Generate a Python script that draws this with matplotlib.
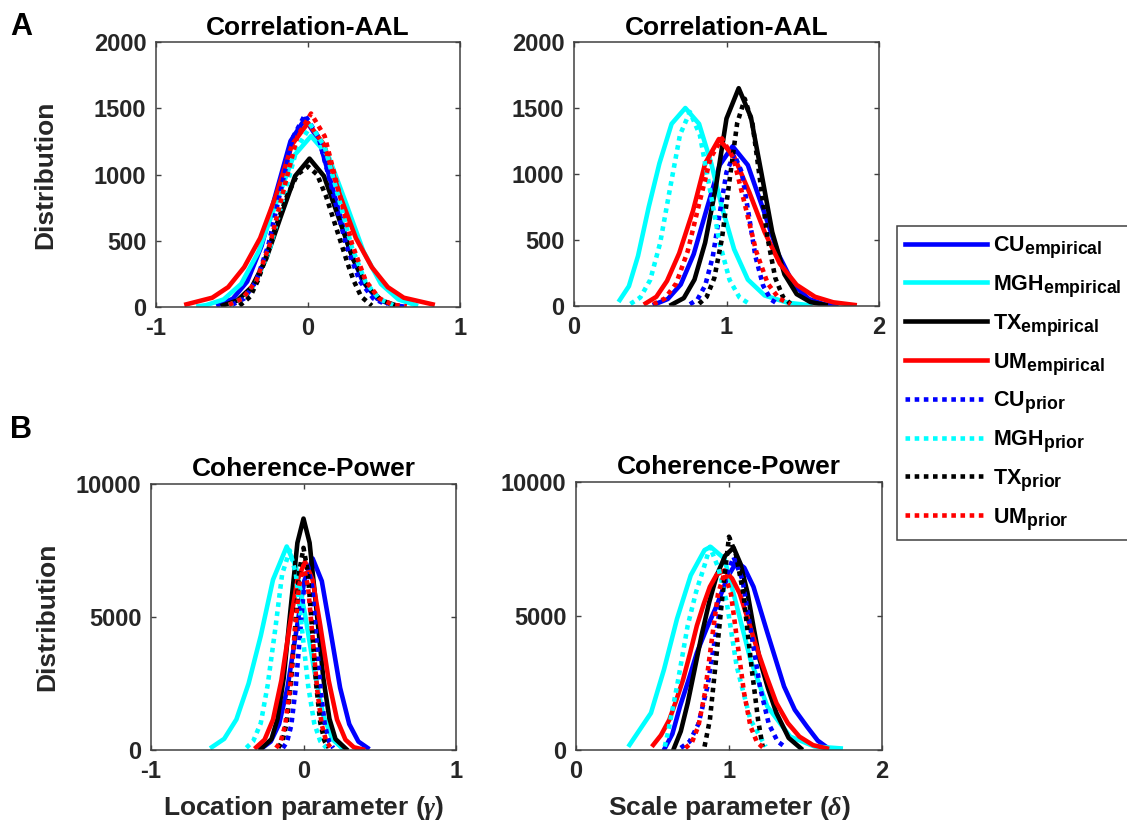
import matplotlib
matplotlib.use('Agg')
import matplotlib.pyplot as plt
import matplotlib._mathtext as mathtext_internal

# subscripts in the legend are larger than mathtext's default 0.7
mathtext_internal.SHRINK_FACTOR = 0.82

plt.rcParams['font.family'] = ['Liberation Sans', 'DejaVu Sans']
plt.rcParams['font.weight'] = 'bold'
plt.rcParams['axes.unicode_minus'] = False
plt.rcParams['mathtext.fontset'] = 'custom'
plt.rcParams['mathtext.rm'] = 'Liberation Sans:bold'
plt.rcParams['mathtext.bf'] = 'Liberation Sans:bold'
plt.rcParams['mathtext.it'] = 'Liberation Serif:italic'

sites = ['CU', 'MGH', 'TX', 'UM']
site_colors = ['#0000ff', '#00ffff', '#000000', '#ff0000']

# ---- A, left: Correlation-AAL, location parameter ----
corr_loc_cu_emp_x = [-0.59, -0.495, -0.40, -0.305, -0.21, -0.115, -0.02, 0.075, 0.17, 0.265, 0.36, 0.455, 0.55, 0.62]
corr_loc_cu_emp_y = [16, 62, 192, 462, 862, 1252, 1420, 1252, 862, 462, 192, 62, 16, 5]
corr_loc_mgh_emp_x = [-0.72, -0.67, -0.555, -0.44, -0.325, -0.21, -0.095, 0.02, 0.135, 0.25, 0.365, 0.48, 0.595, 0.71]
corr_loc_mgh_emp_y = [6, 14, 57, 174, 419, 783, 1138, 1290, 1138, 783, 419, 174, 57, 14]
corr_loc_tx_emp_x = [-0.56, -0.465, -0.37, -0.275, -0.18, -0.085, 0.01, 0.105, 0.20, 0.295, 0.39, 0.485, 0.58]
corr_loc_tx_emp_y = [12, 49, 151, 364, 680, 988, 1120, 988, 680, 364, 151, 49, 12]
corr_loc_um_emp_x = [-0.80, -0.63, -0.525, -0.42, -0.315, -0.21, -0.105, 0.0, 0.105, 0.21, 0.315, 0.42, 0.525, 0.63, 0.82]
corr_loc_um_emp_y = [20, 70, 150, 300, 520, 843, 1226, 1390, 1226, 843, 520, 300, 150, 70, 20]
corr_loc_cu_pri_x = [-0.50, -0.42, -0.34, -0.26, -0.18, -0.10, -0.02, 0.07, 0.16, 0.25, 0.34, 0.43, 0.52]
corr_loc_cu_pri_y = [16, 64, 196, 471, 880, 1279, 1450, 1279, 880, 471, 196, 64, 16]
corr_loc_mgh_pri_x = [-0.52, -0.43, -0.34, -0.25, -0.16, -0.07, 0.02, 0.11, 0.20, 0.29, 0.38, 0.47, 0.56]
corr_loc_mgh_pri_y = [15, 60, 185, 445, 832, 1208, 1370, 1208, 832, 445, 185, 60, 15]
corr_loc_tx_pri_x = [-0.45, -0.38, -0.33, -0.29, -0.22, -0.14, -0.07, 0.0, 0.06, 0.12, 0.19, 0.26, 0.30, 0.35, 0.42]
corr_loc_tx_pri_y = [10, 78, 200, 330, 581, 832, 1000, 1060, 1000, 832, 581, 330, 200, 78, 10]
corr_loc_um_pri_x = [-0.52, -0.43, -0.34, -0.25, -0.16, -0.07, 0.02, 0.11, 0.20, 0.29, 0.38, 0.47, 0.56, 0.65]
corr_loc_um_pri_y = [16, 64, 197, 475, 886, 1288, 1460, 1288, 886, 475, 197, 64, 16, 5]

# ---- A, right: Correlation-AAL, scale parameter ----
corr_sc_cu_emp_x = [0.53, 0.615, 0.70, 0.785, 0.87, 0.955, 1.04, 1.14, 1.24, 1.34, 1.44, 1.54, 1.64, 1.72]
corr_sc_cu_emp_y = [13, 53, 163, 393, 734, 1067, 1210, 1067, 734, 393, 163, 53, 13, 4]
corr_sc_mgh_emp_x = [0.30, 0.36, 0.42, 0.49, 0.56, 0.64, 0.73, 0.82, 0.90, 0.97, 1.05, 1.14, 1.25, 1.40, 1.55]
corr_sc_mgh_emp_y = [45, 150, 380, 750, 1080, 1380, 1500, 1380, 1080, 750, 430, 200, 80, 25, 5]
corr_sc_tx_emp_x = [0.64, 0.72, 0.79, 0.86, 0.93, 1.00, 1.08, 1.16, 1.23, 1.30, 1.38, 1.46, 1.55, 1.65]
corr_sc_tx_emp_y = [10, 60, 200, 480, 900, 1420, 1650, 1430, 1000, 560, 240, 90, 30, 8]
corr_sc_um_emp_x = [0.47, 0.54, 0.61, 0.69, 0.78, 0.86, 0.95, 1.05, 1.15, 1.25, 1.35, 1.46, 1.58, 1.70, 1.84]
corr_sc_um_emp_y = [20, 70, 190, 400, 720, 1080, 1265, 1130, 860, 560, 320, 160, 70, 28, 8]
corr_sc_cu_pri_x = [0.76, 0.81, 0.86, 0.91, 0.955, 1.00, 1.05, 1.10, 1.145, 1.19, 1.24, 1.29, 1.34]
corr_sc_cu_pri_y = [13, 50, 155, 374, 698, 1014, 1150, 1014, 698, 374, 155, 50, 13]
corr_sc_mgh_pri_x = [0.37, 0.435, 0.50, 0.565, 0.63, 0.695, 0.76, 0.825, 0.89, 0.955, 1.02, 1.085, 1.15]
corr_sc_mgh_pri_y = [16, 65, 198, 478, 892, 1297, 1470, 1297, 892, 478, 198, 65, 16]
corr_sc_tx_pri_x = [0.82, 0.87, 0.92, 0.97, 1.02, 1.07, 1.12, 1.17, 1.22, 1.27, 1.32, 1.37, 1.42]
corr_sc_tx_pri_y = [17, 69, 212, 510, 953, 1385, 1570, 1385, 953, 510, 212, 69, 17]
corr_sc_um_pri_x = [0.52, 0.595, 0.67, 0.745, 0.82, 0.895, 0.97, 1.045, 1.12, 1.195, 1.27, 1.345, 1.42]
corr_sc_um_pri_y = [14, 56, 171, 413, 771, 1120, 1270, 1120, 771, 413, 171, 56, 14]

# ---- B, left: Coherence-Power, location parameter ----
coh_loc_cu_emp_x = [-0.27, -0.215, -0.16, -0.105, -0.05, 0.005, 0.06, 0.12, 0.18, 0.24, 0.30, 0.36, 0.42]
coh_loc_cu_emp_y = [79, 317, 972, 2340, 4370, 6350, 7200, 6350, 4370, 2340, 972, 317, 79]
coh_loc_mgh_emp_x = [-0.60, -0.52, -0.44, -0.36, -0.28, -0.20, -0.11, -0.05, 0.01, 0.07, 0.13, 0.19, 0.25]
coh_loc_mgh_emp_y = [110, 420, 1150, 2500, 4300, 6400, 7650, 6900, 5100, 3000, 1300, 400, 90]
coh_loc_tx_emp_x = [-0.28, -0.21, -0.17, -0.13, -0.085, -0.04, 0.0, 0.04, 0.085, 0.13, 0.17, 0.21, 0.28]
coh_loc_tx_emp_y = [39, 410, 1175, 2700, 5280, 7790, 8700, 7790, 5280, 2700, 1175, 410, 39]
coh_loc_um_emp_x = [-0.31, -0.255, -0.20, -0.145, -0.09, -0.04, 0.01, 0.06, 0.11, 0.165, 0.22, 0.275, 0.33, 0.39]
coh_loc_um_emp_y = [103, 389, 1140, 2620, 4680, 6390, 7080, 6390, 4680, 2620, 1140, 389, 103, 20]
coh_loc_cu_pri_x = [-0.135, -0.108, -0.08, -0.053, -0.025, 0.003, 0.03, 0.058, 0.085, 0.113, 0.14, 0.168, 0.195]
coh_loc_cu_pri_y = [76, 304, 932, 2243, 4188, 6086, 6900, 6086, 4188, 2243, 932, 304, 76]
coh_loc_mgh_pri_x = [-0.375, -0.33, -0.28, -0.235, -0.185, -0.14, -0.09, -0.05, -0.01, 0.03, 0.07, 0.11, 0.15]
coh_loc_mgh_pri_y = [83, 330, 1013, 2438, 4553, 6615, 7500, 6615, 4553, 2438, 1013, 330, 83]
coh_loc_tx_pri_x = [-0.165, -0.138, -0.11, -0.083, -0.055, -0.028, 0.0, 0.028, 0.055, 0.083, 0.11, 0.138, 0.165]
coh_loc_tx_pri_y = [84, 334, 1026, 2470, 4613, 6703, 7600, 6703, 4613, 2470, 1026, 334, 84]
coh_loc_um_pri_x = [-0.18, -0.15, -0.12, -0.09, -0.06, -0.03, 0.0, 0.03, 0.06, 0.09, 0.12, 0.15, 0.18]
coh_loc_um_pri_y = [76, 306, 938, 2259, 4219, 6130, 6950, 6130, 4219, 2259, 938, 306, 76]

# ---- B, right: Coherence-Power, scale parameter ----
coh_sc_cu_emp_x = [0.58, 0.63, 0.68, 0.735, 0.79, 0.855, 0.92, 0.99, 1.05, 1.10, 1.16, 1.25, 1.36, 1.43, 1.51, 1.58, 1.65]
coh_sc_cu_emp_y = [60, 600, 1630, 2600, 3630, 4550, 5390, 6450, 7020, 6800, 6090, 4390, 2370, 1500, 870, 350, 60]
coh_sc_mgh_emp_x = [0.35, 0.49, 0.575, 0.66, 0.75, 0.84, 0.88, 0.97, 1.05, 1.14, 1.25, 1.40, 1.56, 1.73]
coh_sc_mgh_emp_y = [190, 1380, 3000, 4890, 6520, 7460, 7580, 7140, 5390, 3380, 1630, 500, 130, 60]
coh_sc_tx_emp_x = [0.64, 0.685, 0.73, 0.775, 0.82, 0.87, 0.92, 0.975, 1.03, 1.075, 1.12, 1.16, 1.20, 1.255, 1.31, 1.39, 1.47]
coh_sc_tx_emp_y = [60, 700, 1750, 3000, 4260, 5500, 6520, 7250, 7550, 6950, 5890, 4600, 3380, 2300, 1380, 450, 60]
coh_sc_um_emp_x = [0.505, 0.555, 0.61, 0.655, 0.70, 0.745, 0.79, 0.835, 0.875, 0.92, 0.97, 1.02, 1.07,
                   1.125, 1.18, 1.245, 1.31, 1.385, 1.46, 1.55, 1.64]
coh_sc_um_emp_y = [190, 550, 1128, 1850, 2630, 3600, 4640, 5450, 6090, 6550, 6700, 6400, 5840,
                   4850, 3830, 2750, 1750, 1000, 500, 180, 60]
coh_sc_cu_pri_x = [0.685, 0.743, 0.80, 0.858, 0.915, 0.973, 1.03, 1.088, 1.145, 1.203, 1.26, 1.318, 1.375]
coh_sc_cu_pri_y = [79, 317, 972, 2340, 4370, 6350, 7200, 6350, 4370, 2340, 972, 317, 79]
coh_sc_mgh_pri_x = [0.58, 0.60, 0.66, 0.73, 0.785, 0.84, 0.875, 0.93, 0.985, 1.05, 1.14, 1.24]
coh_sc_mgh_pri_y = [125, 620, 2370, 4640, 5900, 6890, 7580, 6800, 5510, 3130, 1128, 125]
coh_sc_tx_pri_x = [0.84, 0.875, 0.92, 0.963, 1.0, 1.045, 1.094, 1.15, 1.19, 1.22]
coh_sc_tx_pri_y = [125, 1128, 3634, 6090, 7958, 7300, 5840, 2960, 1128, 125]
coh_sc_um_pri_x = [0.715, 0.758, 0.80, 0.843, 0.885, 0.928, 0.97, 1.013, 1.055, 1.098, 1.14, 1.183, 1.225]
coh_sc_um_pri_y = [73, 290, 891, 2145, 4006, 5821, 6600, 5821, 4006, 2145, 891, 290, 73]

panels = [
    [(corr_loc_cu_emp_x, corr_loc_cu_emp_y), (corr_loc_mgh_emp_x, corr_loc_mgh_emp_y),
     (corr_loc_tx_emp_x, corr_loc_tx_emp_y), (corr_loc_um_emp_x, corr_loc_um_emp_y),
     (corr_loc_cu_pri_x, corr_loc_cu_pri_y), (corr_loc_mgh_pri_x, corr_loc_mgh_pri_y),
     (corr_loc_tx_pri_x, corr_loc_tx_pri_y), (corr_loc_um_pri_x, corr_loc_um_pri_y)],
    [(corr_sc_cu_emp_x, corr_sc_cu_emp_y), (corr_sc_mgh_emp_x, corr_sc_mgh_emp_y),
     (corr_sc_tx_emp_x, corr_sc_tx_emp_y), (corr_sc_um_emp_x, corr_sc_um_emp_y),
     (corr_sc_cu_pri_x, corr_sc_cu_pri_y), (corr_sc_mgh_pri_x, corr_sc_mgh_pri_y),
     (corr_sc_tx_pri_x, corr_sc_tx_pri_y), (corr_sc_um_pri_x, corr_sc_um_pri_y)],
    [(coh_loc_cu_emp_x, coh_loc_cu_emp_y), (coh_loc_mgh_emp_x, coh_loc_mgh_emp_y),
     (coh_loc_tx_emp_x, coh_loc_tx_emp_y), (coh_loc_um_emp_x, coh_loc_um_emp_y),
     (coh_loc_cu_pri_x, coh_loc_cu_pri_y), (coh_loc_mgh_pri_x, coh_loc_mgh_pri_y),
     (coh_loc_tx_pri_x, coh_loc_tx_pri_y), (coh_loc_um_pri_x, coh_loc_um_pri_y)],
    [(coh_sc_cu_emp_x, coh_sc_cu_emp_y), (coh_sc_mgh_emp_x, coh_sc_mgh_emp_y),
     (coh_sc_tx_emp_x, coh_sc_tx_emp_y), (coh_sc_um_emp_x, coh_sc_um_emp_y),
     (coh_sc_cu_pri_x, coh_sc_cu_pri_y), (coh_sc_mgh_pri_x, coh_sc_mgh_pri_y),
     (coh_sc_tx_pri_x, coh_sc_tx_pri_y), (coh_sc_um_pri_x, coh_sc_um_pri_y)],
]
titles = ['Correlation-AAL', 'Correlation-AAL', 'Coherence-Power', 'Coherence-Power']
xlims = [(-1, 1), (0, 2), (-1, 1), (0, 2)]
xticks = [[-1, 0, 1], [0, 1, 2], [-1, 0, 1], [0, 1, 2]]
ylims = [(0, 2000), (0, 2000), (0, 10000), (0, 10000)]
yticks = [[0, 500, 1000, 1500, 2000], [0, 500, 1000, 1500, 2000], [0, 5000, 10000], [0, 5000, 10000]]

W, H = 1127, 827
# axes boxes in pixels: left, top, right, bottom
boxes = [(156, 42, 460, 307), (574, 42, 879, 306), (151, 484, 456, 750), (576, 482, 882, 750)]

fig = plt.figure(figsize=(W / 100, H / 100), dpi=100)
spine_col = '#404040'
text_col = '#262626'

axes = []
for i in range(4):
    l, t, r, b = boxes[i]
    ax = fig.add_axes([l / W, 1 - b / H, (r - l) / W, (b - t) / H])
    axes.append(ax)
    for j, (xs, ys) in enumerate(panels[i]):
        site = j % 4
        kind = 'empirical' if j < 4 else 'prior'
        if kind == 'empirical':
            ax.plot(xs, ys, color=site_colors[site], lw=3.3, solid_joinstyle='round',
                    label=r'$\mathbf{%s}_{\mathbf{%s}}$' % (sites[site], kind))
        else:
            ax.plot(xs, ys, color=site_colors[site], lw=3.3, linestyle=(0, (1, 1)),
                    dash_capstyle='butt', label=r'$\mathbf{%s}_{\mathbf{%s}}$' % (sites[site], kind))
    ax.set_xlim(*xlims[i])
    ax.set_ylim(*ylims[i])
    ax.set_xticks(xticks[i])
    ax.set_yticks(yticks[i])
    ax.tick_params(direction='in', top=True, right=True, length=3.5, width=1,
                   color=spine_col, labelsize=17, labelcolor=text_col, pad=7)
    for sp in ax.spines.values():
        sp.set_color(spine_col)
        sp.set_linewidth(1.1)
    for lab in ax.get_xticklabels() + ax.get_yticklabels():
        lab.set_fontweight('bold')
    ax.set_title(titles[i], fontsize=19, fontweight='bold', color='black', pad=5 if i < 2 else 6)

axes[0].set_ylabel('Distribution', fontsize=19, fontweight='bold', color=text_col)
axes[0].yaxis.set_label_coords(-0.325, 0.5)
axes[2].set_ylabel('Distribution', fontsize=19, fontweight='bold', color=text_col)
axes[2].yaxis.set_label_coords(-0.302, 0.5)
axes[2].set_xlabel(r'Location parameter ($\gamma$)', fontsize=19, fontweight='bold',
                   color=text_col, labelpad=8)
axes[3].set_xlabel(r'Scale parameter ($\delta$)', fontsize=19, fontweight='bold',
                   color=text_col, labelpad=8)

fig.text(10 / W, 1 - 35 / H, 'A', fontsize=22, fontweight='bold', va='baseline')
fig.text(10 / W, 1 - 438 / H, 'B', fontsize=22, fontweight='bold', va='baseline')

handles, labels = axes[0].get_legend_handles_labels()
leg = fig.legend(handles, labels, loc='upper left', bbox_to_anchor=(897 / W, 1 - 226 / H),
                 borderaxespad=0, fontsize=15.5, frameon=True, fancybox=False, framealpha=1,
                 edgecolor=spine_col, handlelength=3.8, handletextpad=0.3, borderpad=0.38,
                 labelspacing=0.6)
leg.get_frame().set_linewidth(1.1)

fig.savefig('out.png', dpi=100)
